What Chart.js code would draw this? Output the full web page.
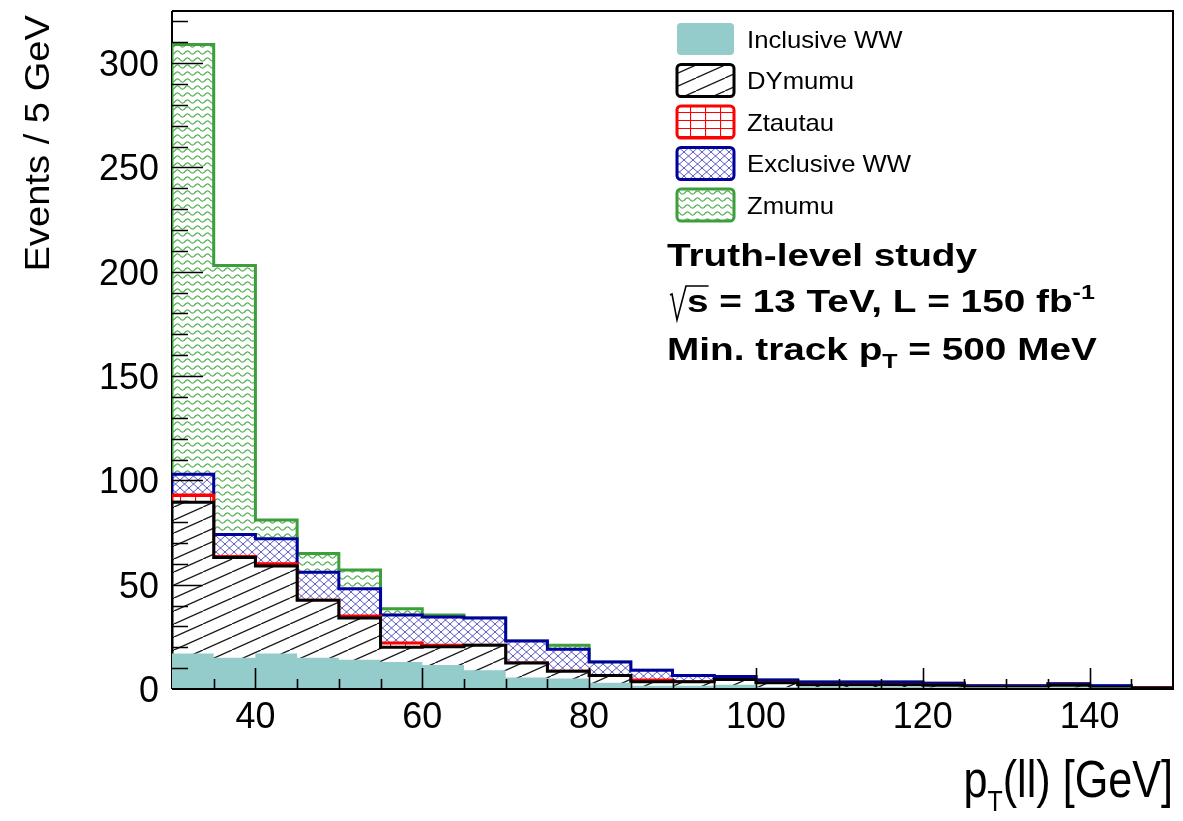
<!DOCTYPE html>
<html>
<head>
<meta charset="utf-8">
<script src="https://cdn.jsdelivr.net/npm/chart.js@4.4.1/dist/chart.umd.min.js"></script>
<style>
  html, body { margin: 0; padding: 0; background: #fff; }
  #wrap { width: 1183px; height: 821px; }
</style>
</head>
<body>
<div id="wrap"><canvas id="ptll" width="1183" height="821"></canvas></div>
<script>
// bin edges of p_T(ll) in GeV (24 bins of 5 GeV)
const binEdges = [30, 35, 40, 45, 50, 55, 60, 65, 70, 75, 80, 85, 90, 95, 100,
                  105, 110, 115, 120, 125, 130, 135, 140, 145, 150];

// events per bin (bottom of the stack first)
const inclusiveWW = [17, 15, 17, 15, 14, 13, 11.5, 9, 5.5, 5, 3, 1.5, 1.5, 2, 1, 1, 1, 1, 0.8, 0.8, 0.8, 0.8, 0.7, 0.5];
const dyMuMu      = [72.5, 48, 42, 27.5, 20, 7, 8.8, 12, 7, 3.5, 3.5, 2, 2, 2.5, 2, 1, 1, 1, 1, 0, 0, 1, 0, 0];
const zTauTau     = [3.5, 0.5, 1, 0, 1, 2, 0.7, 0, 0, 0, 0, 0.8, 0, 0, 0, 0, 0, 0, 0, 0, 0, 0, 0, 0];
const exclusiveWW = [10, 10.5, 12, 13.5, 13, 13.5, 13.5, 13, 10.5, 10.5, 6.5, 4.7, 3, 1.5, 1.3, 1.3, 1.3, 1.3, 1, 0.7, 0.7, 0.7, 0.8, 0];
const zMuMu       = [206, 129, 9, 9, 9, 3, 1, 0, 0, 2, 0, 0, 0, 0, 0, 0, 0, 0, 0, 0, 0, 0, 0, 0];

const seriesNames = ['Inclusive WW', 'DYmumu', 'Ztautau', 'Exclusive WW', 'Zmumu'];

const yTicks = [0, 50, 100, 150, 200, 250, 300];
const xTicks = [40, 60, 80, 100, 120, 140];

const FONT = '"Liberation Sans", Arial, Helvetica, sans-serif';

const canvas = document.getElementById('ptll');
const ctx = canvas.getContext('2d');

// ROOT-like fill styles as canvas patterns
function makePattern(w, h, paint) {
  const c = document.createElement('canvas');
  c.width = w; c.height = h;
  const g = c.getContext('2d');
  g.fillStyle = '#fff';
  g.fillRect(0, 0, w, h);
  paint(g, w, h);
  return ctx.createPattern(c, 'repeat');
}

const tealFill = 'rgb(148, 203, 203)';

const dyHatch = makePattern(29, 13, (g, w, h) => {
  g.strokeStyle = '#1a1a1a';
  g.lineWidth = 1.3;
  g.beginPath();
  for (let k = -1; k <= 1; k++) {
    g.moveTo(k * w, h);
    g.lineTo(w + k * w, 0);
  }
  g.stroke();
});

const tauGrid = makePattern(15, 8, (g, w, h) => {
  g.strokeStyle = '#ff0000';
  g.lineWidth = 1.2;
  g.beginPath();
  g.moveTo(0.5, 0); g.lineTo(0.5, h);
  g.moveTo(0, 0.5); g.lineTo(w, 0.5);
  g.stroke();
});

const wwCross = makePattern(9, 8, (g, w, h) => {
  g.strokeStyle = '#3030b8';
  g.lineWidth = 0.8;
  g.beginPath();
  for (let k = -1; k <= 1; k++) {
    g.moveTo(k * w, 0); g.lineTo(w + k * w, h);
    g.moveTo(k * w, h); g.lineTo(w + k * w, 0);
  }
  g.stroke();
});

const zWaves = makePattern(10, 7, (g, w, h) => {
  g.strokeStyle = '#4fae4f';
  g.lineWidth = 1.2;
  g.beginPath();
  for (let x = 0; x <= w; x += 0.5) {
    const y = 3.5 + 1.6 * Math.sin(2 * Math.PI * x / w);
    if (x === 0) g.moveTo(x, y); else g.lineTo(x, y);
  }
  g.stroke();
});

const styles = [
  { fill: tealFill, line: tealFill, width: 0 },
  { fill: dyHatch, line: '#000000', width: 3 },
  { fill: tauGrid, line: '#ff0000', width: 3 },
  { fill: wwCross, line: '#00009c', width: 3 },
  { fill: zWaves, line: '#3c9f3c', width: 3 }
];

// cumulative step outlines, each filled down to zero
const components = [inclusiveWW, dyMuMu, zTauTau, exclusiveWW, zMuMu];
const nBins = binEdges.length - 1;
let running = new Array(nBins).fill(0);
const datasets = components.map((vals, k) => {
  running = running.map((r, i) => r + vals[i]);
  const pts = [{ x: binEdges[0], y: 0 }];
  running.forEach((v, i) => pts.push({ x: binEdges[i], y: v }));
  pts.push({ x: binEdges[nBins], y: running[nBins - 1] });
  pts.push({ x: binEdges[nBins], y: 0 });
  return {
    label: seriesNames[k],
    data: pts,
    stepped: 'before',
    fill: 'origin',
    backgroundColor: styles[k].fill,
    borderColor: styles[k].line,
    borderWidth: styles[k].width,
    borderJoinStyle: 'miter',
    pointRadius: 0
  };
});

// text helper: runs of text with optional size / offset, stretched by sx
function textRuns(c, x, y, runs, sx, measureOnly) {
  let cx = x;
  for (const r of runs) {
    c.font = (r.bold ? 'bold ' : '') + r.size + 'px ' + FONT;
    if (!measureOnly) {
      c.save();
      c.translate(cx, y + (r.dy || 0));
      c.scale(sx, 1);
      c.fillText(r.t, 0, 0);
      c.restore();
    }
    cx += c.measureText(r.t).width * sx;
  }
  return cx - x;
}

const decorations = {
  id: 'decorations',
  beforeDatasetsDraw(chart) {
    const { ctx: c, chartArea: a } = chart;
    c.save();
    c.strokeStyle = '#000';
    c.lineWidth = 2;
    c.beginPath();
    c.moveTo(a.left, a.top); c.lineTo(a.left, a.bottom);
    c.stroke();
    c.restore();
  },
  afterDatasetsDraw(chart) {
    const { ctx: c, chartArea: a, scales: { x, y } } = chart;
    c.save();
    c.strokeStyle = '#000';
    c.fillStyle = '#000';
    c.lineWidth = 2;
    c.beginPath();
    c.moveTo(a.left, a.bottom); c.lineTo(a.right, a.bottom);
    c.lineTo(a.right, a.top); c.lineTo(a.left, a.top);
    c.stroke();

    // y ticks (inside), major every 50, minor every 10
    c.lineWidth = 1.6;
    c.beginPath();
    for (let v = 10; v <= y.max; v += 10) {
      const py = Math.round(y.getPixelForValue(v)) + 0.5;
      const len = v % 50 === 0 ? 31 : 16;
      c.moveTo(a.left, py); c.lineTo(a.left + len, py);
    }
    // x ticks (inside), major every 20, minor every 5
    for (let v = x.min + 5; v < x.max; v += 5) {
      const px = Math.round(x.getPixelForValue(v)) + 0.5;
      const len = xTicks.includes(v) ? 21 : 10;
      c.moveTo(px, a.bottom); c.lineTo(px, a.bottom - len);
    }
    c.stroke();

    // tick labels
    c.textBaseline = 'alphabetic';
    y.ticks.forEach(t => {
      const py = y.getPixelForValue(t.value);
      const s = String(t.value);
      const w = textRuns(c, 0, 0, [{ t: s, size: 37 }], 0.97, true);
      textRuns(c, 159 - w, py + 13, [{ t: s, size: 37 }], 0.97);
    });
    x.ticks.forEach(t => {
      const px = x.getPixelForValue(t.value);
      const s = String(t.value);
      const w = textRuns(c, 0, 0, [{ t: s, size: 37 }], 0.97, true);
      textRuns(c, px - w / 2, 728, [{ t: s, size: 37 }], 0.97);
    });

    // axis titles
    const xt = [{ t: 'p', size: 52 }, { t: 'T', size: 30, dy: 14 }, { t: '(ll) [GeV]', size: 52 }];
    const xw = textRuns(c, 0, 0, xt, 0.83, true);
    textRuns(c, a.right - xw, 797, xt, 0.83);

    c.save();
    c.translate(49, 15);
    c.rotate(-Math.PI / 2);
    const yt = [{ t: 'Events / 5 GeV', size: 35 }];
    const yw = textRuns(c, 0, 0, yt, 1.09, true);
    textRuns(c, -yw, 0, yt, 1.09);
    c.restore();

    // legend
    chart.data.datasets.forEach((ds, i) => {
      const bx = 677, by = 23 + i * 41.5, bw = 57, bh = 32;
      c.beginPath();
      c.roundRect(bx, by, bw, bh, 4);
      c.fillStyle = ds.backgroundColor;
      c.fill();
      if (ds.borderWidth > 0) {
        c.lineWidth = 3;
        c.strokeStyle = ds.borderColor;
        c.stroke();
      }
      c.fillStyle = '#000';
      textRuns(c, 747, by + bh / 2 + 8.5, [{ t: ds.label, size: 24 }], 1.07);
    });

    // labels
    const bsx = 1.25;
    textRuns(c, 667, 266, [{ t: 'Truth-level study', size: 31, bold: true }], bsx);
    // sqrt(s) line
    const x0 = 672, b2 = 312;
    c.font = 'bold 31px ' + FONT;
    const sW = c.measureText('s').width * bsx;
    c.lineWidth = 1.6;
    c.strokeStyle = '#000';
    c.beginPath();
    c.moveTo(x0 - 2, b2 - 17);
    c.lineTo(x0, b2 - 18);
    c.lineTo(x0 + 5, b2 + 8);
    c.lineTo(x0 + 14, b2 - 26);
    c.lineTo(x0 + 15 + sW, b2 - 26);
    c.stroke();
    textRuns(c, x0 + 15, b2, [
      { t: 's = 13 TeV, L = 150 fb', size: 31, bold: true },
      { t: '-1', size: 20, bold: true, dy: -13 }
    ], bsx);
    textRuns(c, 667, 360, [
      { t: 'Min. track p', size: 31, bold: true },
      { t: 'T', size: 20, bold: true, dy: 8 },
      { t: ' = 500 MeV', size: 31, bold: true }
    ], bsx);
    c.restore();
  }
};

new Chart(ctx, {
  type: 'line',
  data: { datasets },
  options: {
    responsive: false,
    animation: false,
    devicePixelRatio: 1,
    layout: { padding: { top: 11, right: 10, left: 0, bottom: 0 } },
    plugins: { legend: { display: false }, tooltip: { enabled: false } },
    elements: { line: { tension: 0 } },
    scales: {
      x: {
        type: 'linear',
        min: binEdges[0],
        max: binEdges[binEdges.length - 1],
        grid: { display: false },
        border: { display: false },
        ticks: { display: false },
        afterBuildTicks: s => { s.ticks = xTicks.map(v => ({ value: v })); },
        afterFit: s => { s.height = 132; }
      },
      y: {
        type: 'linear',
        min: 0,
        max: 325,
        grid: { display: false },
        border: { display: false },
        ticks: { display: false },
        afterBuildTicks: s => { s.ticks = yTicks.map(v => ({ value: v })); },
        afterFit: s => { s.width = 172; }
      }
    }
  },
  plugins: [decorations]
});
</script>
</body>
</html>
